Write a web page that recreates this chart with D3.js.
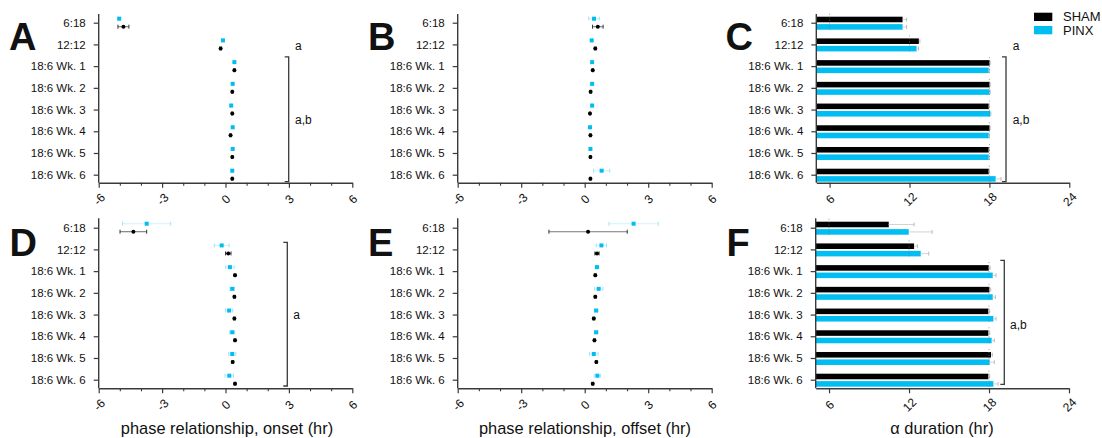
<!DOCTYPE html>
<html><head><meta charset="utf-8">
<script src="https://cdn.jsdelivr.net/npm/d3@7"></script>
<style>body{margin:0;background:#fff;} text{font-family:Arial,"Liberation Sans",sans-serif;fill:#111;}</style>
</head><body><svg id="c" width="1102" height="438"></svg>
<script>
// ---------- data ----------
const categories = ["6:18","12:12","18:6 Wk. 1","18:6 Wk. 2","18:6 Wk. 3","18:6 Wk. 4","18:6 Wk. 5","18:6 Wk. 6"];
const groups = ["SHAM","PINX"];

const phaseTicks = [-6,-3,0,3,6];
const phaseTickLabels = ["-6","-3","0","3","6"];
const phaseMinorTicks = [-5,-4,-2,-1,1,2,4,5];
const durTicks = [6,12,18,24];
const durTickLabels = ["6","12","18","24"];

// A: onset (top)
const aSham    = [-4.83,-0.23,0.42,0.32,0.32,0.24,0.32,0.32];
const aShamErr = [0.26,0.04,0.03,0.03,0.03,0.03,0.03,0.03];
const aPinx    = [-5.03,-0.12,0.42,0.34,0.27,0.34,0.34,0.32];
const aPinxErr = [0.05,0.05,0.03,0.03,0.03,0.03,0.03,0.03];
// B: offset (top)
const bSham    = [0.62,0.50,0.38,0.28,0.25,0.27,0.27,0.27];
const bShamErr = [0.25,0.04,0.03,0.03,0.03,0.03,0.03,0.03];
const bPinx    = [0.44,0.33,0.35,0.35,0.35,0.25,0.27,0.80];
const bPinxErr = [0.25,0.04,0.03,0.03,0.03,0.03,0.03,0.38];
// C: alpha duration (top)
const cSham    = [11.48,12.70,18.02,18.02,17.95,18.02,17.95,17.95];
const cShamErr = [0.30,0.08,0.04,0.04,0.04,0.04,0.04,0.04];
const cPinx    = [11.48,12.53,17.95,18.02,18.07,17.95,17.95,18.47];
const cPinxErr = [0.30,0.15,0.04,0.04,0.04,0.04,0.04,0.40];
// D: onset (bottom)
const dSham    = [-4.36,0.13,0.45,0.42,0.42,0.45,0.34,0.45];
const dShamErr = [0.63,0.13,0.04,0.04,0.04,0.04,0.04,0.04];
const dPinx    = [-3.73,-0.18,0.21,0.32,0.17,0.32,0.32,0.18];
const dPinxErr = [1.14,0.35,0.20,0.10,0.17,0.12,0.17,0.20];
// E: offset (bottom)
const eSham    = [0.16,0.58,0.50,0.50,0.43,0.46,0.55,0.38];
const eShamErr = [1.85,0.10,0.04,0.04,0.04,0.04,0.04,0.04];
const ePinx    = [2.31,0.79,0.58,0.66,0.54,0.54,0.43,0.60];
const ePinxErr = [1.16,0.24,0.08,0.20,0.08,0.08,0.20,0.15];
// F: alpha duration (bottom)
const fSham    = [10.48,12.38,17.98,18.03,17.95,17.95,18.15,17.95];
const fShamErr = [1.90,0.25,0.10,0.10,0.10,0.10,0.10,0.10];
const fPinx    = [11.98,12.88,18.28,18.28,18.33,18.20,18.05,18.33];
const fPinxErr = [1.75,0.60,0.25,0.20,0.20,0.20,0.35,0.35];
// dotted reference lines (hours) per category in duration panels
const durationRef = [6,12,18,18,18,18,18,18];

// ---------- drawing ----------
const svg = d3.select("#c");
const SHAM_COLOR = "#000000", PINX_COLOR = "#00bef2";
const AXIS_COLOR = "#3a3a3a";

const rows = [
  {top:14,   axisY:182.7, first:22.7,  last:174.7, letterY:49.5},
  {top:218.3,axisY:388.3, first:227.7, last:379.7, letterY:256}
];

function yScale(row){ return d3.scalePoint().domain(categories).range([row.first,row.last]); }

function drawYAxis(g, y, x0, row){
  const ax = g.append("g").attr("transform",`translate(${x0},0)`)
    .call(d3.axisLeft(y).tickSize(5).tickPadding(8));
  ax.select(".domain").remove();
  ax.selectAll(".tick line").attr("stroke",AXIS_COLOR).attr("stroke-width",1.2);
  ax.selectAll(".tick text").style("font-size","11.5px").attr("fill","#111");
  g.append("line").attr("x1",x0).attr("x2",x0).attr("y1",row.top).attr("y2",row.axisY)
    .attr("stroke",AXIS_COLOR).attr("stroke-width",1.4);
}

function drawXAxis(g, x, row, ticks, labels, minor){
  const ax = g.append("g").attr("transform",`translate(0,${row.axisY})`)
    .call(d3.axisBottom(x).tickValues(ticks).tickSize(5).tickSizeOuter(0).tickFormat((d,i)=>labels[i]));
  ax.select(".domain").attr("stroke",AXIS_COLOR).attr("stroke-width",1.4);
  ax.selectAll(".tick line").attr("stroke",AXIS_COLOR).attr("stroke-width",1.2);
  ax.selectAll(".tick text").attr("y",0).attr("dy","0.35em").attr("x",0)
    .attr("text-anchor","middle").attr("transform","translate(0,16.5) rotate(-45)")
    .style("font-size","12px").attr("fill","#111");
  if(minor){
    const mx = g.append("g").attr("transform",`translate(0,${row.axisY})`)
      .call(d3.axisBottom(x).tickValues(minor).tickSize(3).tickFormat(""));
    mx.select(".domain").remove();
    mx.selectAll(".tick line").attr("stroke",AXIS_COLOR).attr("stroke-width",1.1);
  }
}

function letter(x, y, t){
  svg.append("text").attr("x",x).attr("y",y).text(t)
    .style("font-size","38px").style("font-weight","bold").attr("fill","#000");
}

function bracket(x, y1, y2){
  svg.append("path").attr("d",`M${x-4},${y1}H${x}V${y2}H${x-4}`)
    .attr("fill","none").attr("stroke",AXIS_COLOR).attr("stroke-width",1.3);
}
function note(x, y, t){
  svg.append("text").attr("x",x).attr("y",y).attr("dy","0.35em").text(t).style("font-size","12px");
}

function errH(g, x, yy, v, e, lineColor, capColor){
  g.append("line").attr("x1",x(v-e)).attr("x2",x(v+e)).attr("y1",yy).attr("y2",yy)
    .attr("stroke",lineColor).attr("stroke-width",1.1);
  [v-e, v+e].forEach(t=>{
    g.append("line").attr("x1",x(t)).attr("x2",x(t)).attr("y1",yy-2).attr("y2",yy+2)
      .attr("stroke",capColor).attr("stroke-width",1);
  });
}

function scatterPanel(x0, x1, row, sham, shamErr, pinx, pinxErr){
  const g = svg.append("g");
  const x = d3.scaleLinear().domain([-6,6]).range([x0,x1]);
  const y = yScale(row);
  const off = d3.scalePoint().domain(groups).range([4,-4]);   // SHAM below, PINX above
  drawYAxis(g, y, x0, row);
  drawXAxis(g, x, row, phaseTicks, phaseTickLabels, phaseMinorTicks);
  categories.forEach((c,i)=>{
    const yp = y(c)+off("PINX"), ys = y(c)+off("SHAM");
    errH(g, x, yp, pinx[i], pinxErr[i], "#cdf2fd", "#9fe4f9");
    g.append("rect").attr("x",x(pinx[i])-2).attr("y",yp-2).attr("width",4).attr("height",4).attr("fill",PINX_COLOR);
    errH(g, x, ys, sham[i], shamErr[i], "#777", "#333");
    g.append("circle").attr("cx",x(sham[i])).attr("cy",ys).attr("r",2).attr("fill",SHAM_COLOR);
  });
  return x;
}

function barPanel(x0, x1, row, sham, shamErr, pinx, pinxErr){
  const g = svg.append("g");
  const x = d3.scaleLinear().domain([5,24]).range([x0,x1]);
  const y = yScale(row);
  const sub = d3.scaleBand().domain(groups).range([-6,7]).paddingInner(0.25);
  const series = [{k:"SHAM",v:sham,e:shamErr,col:SHAM_COLOR},{k:"PINX",v:pinx,e:pinxErr,col:PINX_COLOR}];
  series.forEach(s=>{
    categories.forEach((c,i)=>{
      const yy = y(c)+sub(s.k);
      g.append("rect").attr("x",x(5)).attr("y",yy).attr("width",x(s.v[i])-x(5))
        .attr("height",sub.bandwidth()).attr("fill",s.col);
      const ym = yy+sub.bandwidth()/2;
      g.append("line").attr("x1",x(s.v[i])).attr("x2",x(s.v[i]+s.e[i])).attr("y1",ym).attr("y2",ym)
        .attr("stroke","#d4d4d4").attr("stroke-width",1);
      g.append("line").attr("x1",x(s.v[i]+s.e[i])).attr("x2",x(s.v[i]+s.e[i])).attr("y1",ym-2).attr("y2",ym+2)
        .attr("stroke","#bbb").attr("stroke-width",1);
    });
  });
  categories.forEach((c,i)=>{
    g.append("line").attr("x1",x(durationRef[i])).attr("x2",x(durationRef[i]))
      .attr("y1",y(c)-9).attr("y2",y(c)+9)
      .attr("stroke","#777").attr("stroke-width",1).attr("stroke-dasharray","1,2").attr("opacity",0.7);
  });
  drawYAxis(g, y, x0, row);
  drawXAxis(g, x, row, durTicks, durTickLabels, null);
  return x;
}

// top row
const yTop = yScale(rows[0]), yBot = yScale(rows[1]);
scatterPanel(98.7, 352.3, rows[0], aSham, aShamErr, aPinx, aPinxErr);
scatterPanel(457.7, 711.7, rows[0], bSham, bShamErr, bPinx, bPinxErr);
barPanel(816.3, 1069.3, rows[0], cSham, cShamErr, cPinx, cPinxErr);
// bottom row
scatterPanel(98.7, 352.3, rows[1], dSham, dShamErr, dPinx, dPinxErr);
scatterPanel(457.7, 711.7, rows[1], eSham, eShamErr, ePinx, ePinxErr);
barPanel(815.7, 1069, rows[1], fSham, fShamErr, fPinx, fPinxErr);

// panel letters
letter(9, rows[0].letterY, "A"); letter(368, rows[0].letterY, "B"); letter(725.5, rows[0].letterY, "C");
letter(9.5, rows[1].letterY, "D"); letter(368, rows[1].letterY, "E"); letter(726.5, rows[1].letterY, "F");

// brackets & significance notes
bracket(288.7, yTop(categories[2])-9.3, yTop(categories[7])+7);
note(295, yTop(categories[1])+1, "a"); note(295, 120, "a,b");
bracket(1006, yTop(categories[2])-9.3, yTop(categories[7])+7);
note(1012.7, yTop(categories[1])+1, "a"); note(1012.7, 120, "a,b");
bracket(287.3, yBot(categories[1])-7, yBot(categories[7])+6.3);
note(293.3, 314.3, "a");
bracket(1004.3, yBot(categories[2])-10.7, yBot(categories[7])+4.6);
note(1010, 324.3, "a,b");

// axis titles
function title(x, t){
  svg.append("text").attr("x",x).attr("y",434).attr("text-anchor","middle").text(t).style("font-size","16.4px");
}
title(227, "phase relationship, onset (hr)");
title(585, "phase relationship, offset (hr)");
title(942, "\u03B1 duration (hr)");

// legend
const leg = svg.append("g");
[{k:"SHAM",col:SHAM_COLOR,y:12.7},{k:"PINX",col:PINX_COLOR,y:26}].forEach(d=>{
  leg.append("rect").attr("x",1034).attr("y",d.y).attr("width",18.3).attr("height",8.3).attr("fill",d.col);
  leg.append("text").attr("x",1063).attr("y",d.y+4.2).attr("dy","0.35em").text(d.k).style("font-size","13px");
});
</script></body></html>
